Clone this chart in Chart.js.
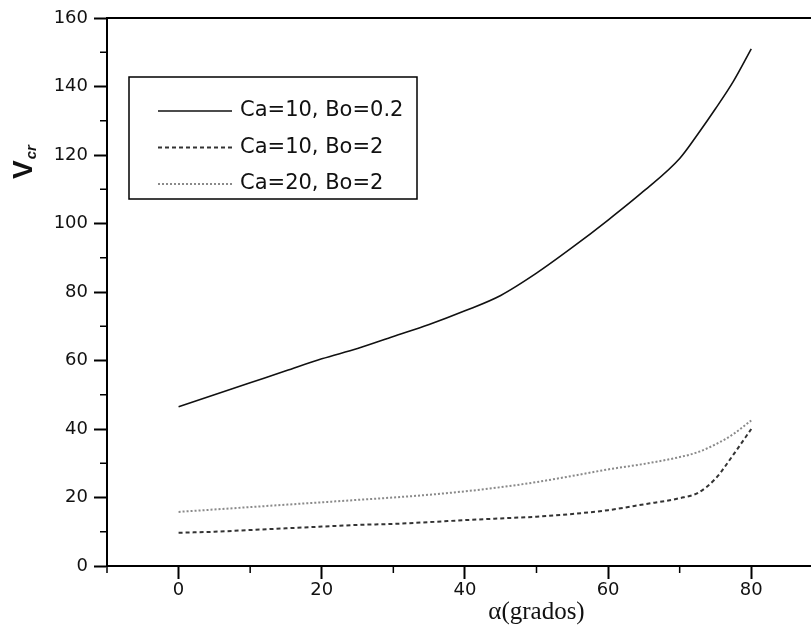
<!DOCTYPE html>
<html>
<head>
<meta charset="utf-8">
<script src="https://cdn.jsdelivr.net/npm/chart.js@4/dist/chart.umd.min.js"></script>
<style>
  html, body { margin: 0; padding: 0; background: #fff; overflow: hidden; }
  #wrap { width: 811px; height: 632px; overflow: hidden; }
  canvas { display: block; }
</style>
</head>
<body>
<div id="wrap"><canvas id="chart" width="970" height="632"></canvas></div>
<script>
// angle of inclination (degrees) and critical velocity for each case
const angles = [0, 5, 10, 15, 20, 25, 30, 35, 40, 45, 50, 55, 60, 65, 70, 72.5, 75, 77.5, 80];
const ca10bo02 = [46.5, 50, 53.5, 57, 60.5, 63.5, 67, 70.5, 74.5, 79, 85.5, 93, 101, 109.5, 119, 126, 133.5, 141.5, 151];
const ca10bo2 = [9.7, 10, 10.5, 11, 11.5, 12, 12.3, 12.8, 13.4, 13.9, 14.4, 15.2, 16.3, 18, 19.8, 21.3, 25.5, 32.5, 40];
const ca20bo2 = [15.8, 16.5, 17.2, 17.9, 18.6, 19.3, 20, 20.8, 21.8, 23, 24.5, 26.3, 28.2, 29.8, 31.8, 33.2, 35.5, 38.5, 42.5];
const seriesNames = ['Ca=10, Bo=0.2', 'Ca=10, Bo=2', 'Ca=20, Bo=2'];

const xMajor = [0, 20, 40, 60, 80];
const xMinor = [-10, 10, 30, 50, 70, 90, 110];
const yMajor = [0, 20, 40, 60, 80, 100, 120, 140, 160];
const yMinor = [10, 30, 50, 70, 90, 110, 130, 150];

const toPoints = ys => angles.map((a, i) => ({ x: a, y: ys[i] }));

Chart.defaults.font.family = 'DejaVu Sans';
Chart.defaults.color = '#111';

// minor ticks, top frame line, boxed legend and the V_cr axis title
const decorations = {
  id: 'decorations',
  afterDraw(chart) {
    const ctx = chart.ctx;
    const area = chart.chartArea;
    const xs = chart.scales.x;
    const ys = chart.scales.y;
    ctx.save();
    ctx.strokeStyle = '#000';
    ctx.lineWidth = 1.5;
    ctx.beginPath();
    xMinor.forEach(v => {
      const px = xs.getPixelForValue(v);
      ctx.moveTo(px, area.bottom);
      ctx.lineTo(px, area.bottom + 7);
    });
    yMinor.forEach(v => {
      const py = ys.getPixelForValue(v);
      ctx.moveTo(area.left - 7, py);
      ctx.lineTo(area.left, py);
    });
    ctx.stroke();

    ctx.lineWidth = 2;
    ctx.beginPath();
    ctx.moveTo(area.left, area.top);
    ctx.lineTo(area.right, area.top);
    ctx.lineTo(area.right, area.bottom);
    ctx.stroke();

    // legend
    const box = { left: 129, top: 77, width: 288, height: 122 };
    ctx.lineWidth = 1.5;
    ctx.strokeRect(box.left, box.top, box.width, box.height);
    ctx.font = '21px "DejaVu Sans"';
    ctx.textBaseline = 'middle';
    ctx.textAlign = 'left';
    chart.data.datasets.forEach((ds, i) => {
      const y = box.top + 34 + i * 36.5;
      ctx.strokeStyle = ds.borderColor;
      ctx.lineWidth = ds.borderWidth;
      ctx.setLineDash(ds.borderDash || []);
      ctx.beginPath();
      ctx.moveTo(box.left + 29, y);
      ctx.lineTo(box.left + 103, y);
      ctx.stroke();
      ctx.setLineDash([]);
      ctx.fillStyle = '#111';
      ctx.fillText(ds.label, box.left + 111, y);
    });

    // y axis title with subscript
    ctx.translate(24, ys.getPixelForValue(113));
    ctx.rotate(-Math.PI / 2);
    ctx.fillStyle = '#111';
    ctx.textBaseline = 'middle';
    ctx.font = 'bold 28px "Liberation Sans"';
    ctx.fillText('V', 0, 0);
    const w = ctx.measureText('V').width;
    ctx.font = 'italic bold 15px "Liberation Sans"';
    ctx.fillText('cr', w + 1, 8);
    ctx.restore();
  }
};

new Chart(document.getElementById('chart'), {
  type: 'line',
  data: {
    datasets: [
      { label: seriesNames[0], data: toPoints(ca10bo02), borderColor: '#111', borderWidth: 1.6, borderDash: [] },
      { label: seriesNames[1], data: toPoints(ca10bo2), borderColor: '#333', borderWidth: 2, borderDash: [4, 3] },
      { label: seriesNames[2], data: toPoints(ca20bo2), borderColor: '#8a8a8a', borderWidth: 2, borderDash: [2, 2] }
    ]
  },
  options: {
    responsive: false,
    animation: false,
    devicePixelRatio: 1,
    layout: { padding: { top: 18, right: 4, bottom: 0, left: 0 } },
    elements: { point: { radius: 0 }, line: { cubicInterpolationMode: 'monotone' } },
    plugins: { legend: { display: false }, tooltip: { enabled: false } },
    scales: {
      x: {
        type: 'linear',
        min: -10,
        max: 110,
        afterBuildTicks: axis => { axis.ticks = xMajor.map(value => ({ value })); },
        afterFit: axis => { axis.height = 66; },
        border: { display: true, color: '#000', width: 2 },
        grid: { drawOnChartArea: false, drawTicks: true, tickLength: 13, tickColor: '#000', tickWidth: 2 },
        ticks: { padding: 1, font: { size: 18 }, maxRotation: 0 },
        title: {
          display: true,
          text: 'α(grados)',
          font: { family: 'Liberation Serif', size: 25 },
          padding: { top: 0, bottom: 5 }
        }
      },
      y: {
        min: 0,
        max: 160,
        afterBuildTicks: axis => { axis.ticks = yMajor.map(value => ({ value })); },
        afterFit: axis => { axis.width = 107; },
        border: { display: true, color: '#000', width: 2 },
        grid: { drawOnChartArea: false, drawTicks: true, tickLength: 13, tickColor: '#000', tickWidth: 2 },
        ticks: { padding: 6, font: { size: 18 } }
      }
    }
  },
  plugins: [decorations]
});
</script>
</body>
</html>
